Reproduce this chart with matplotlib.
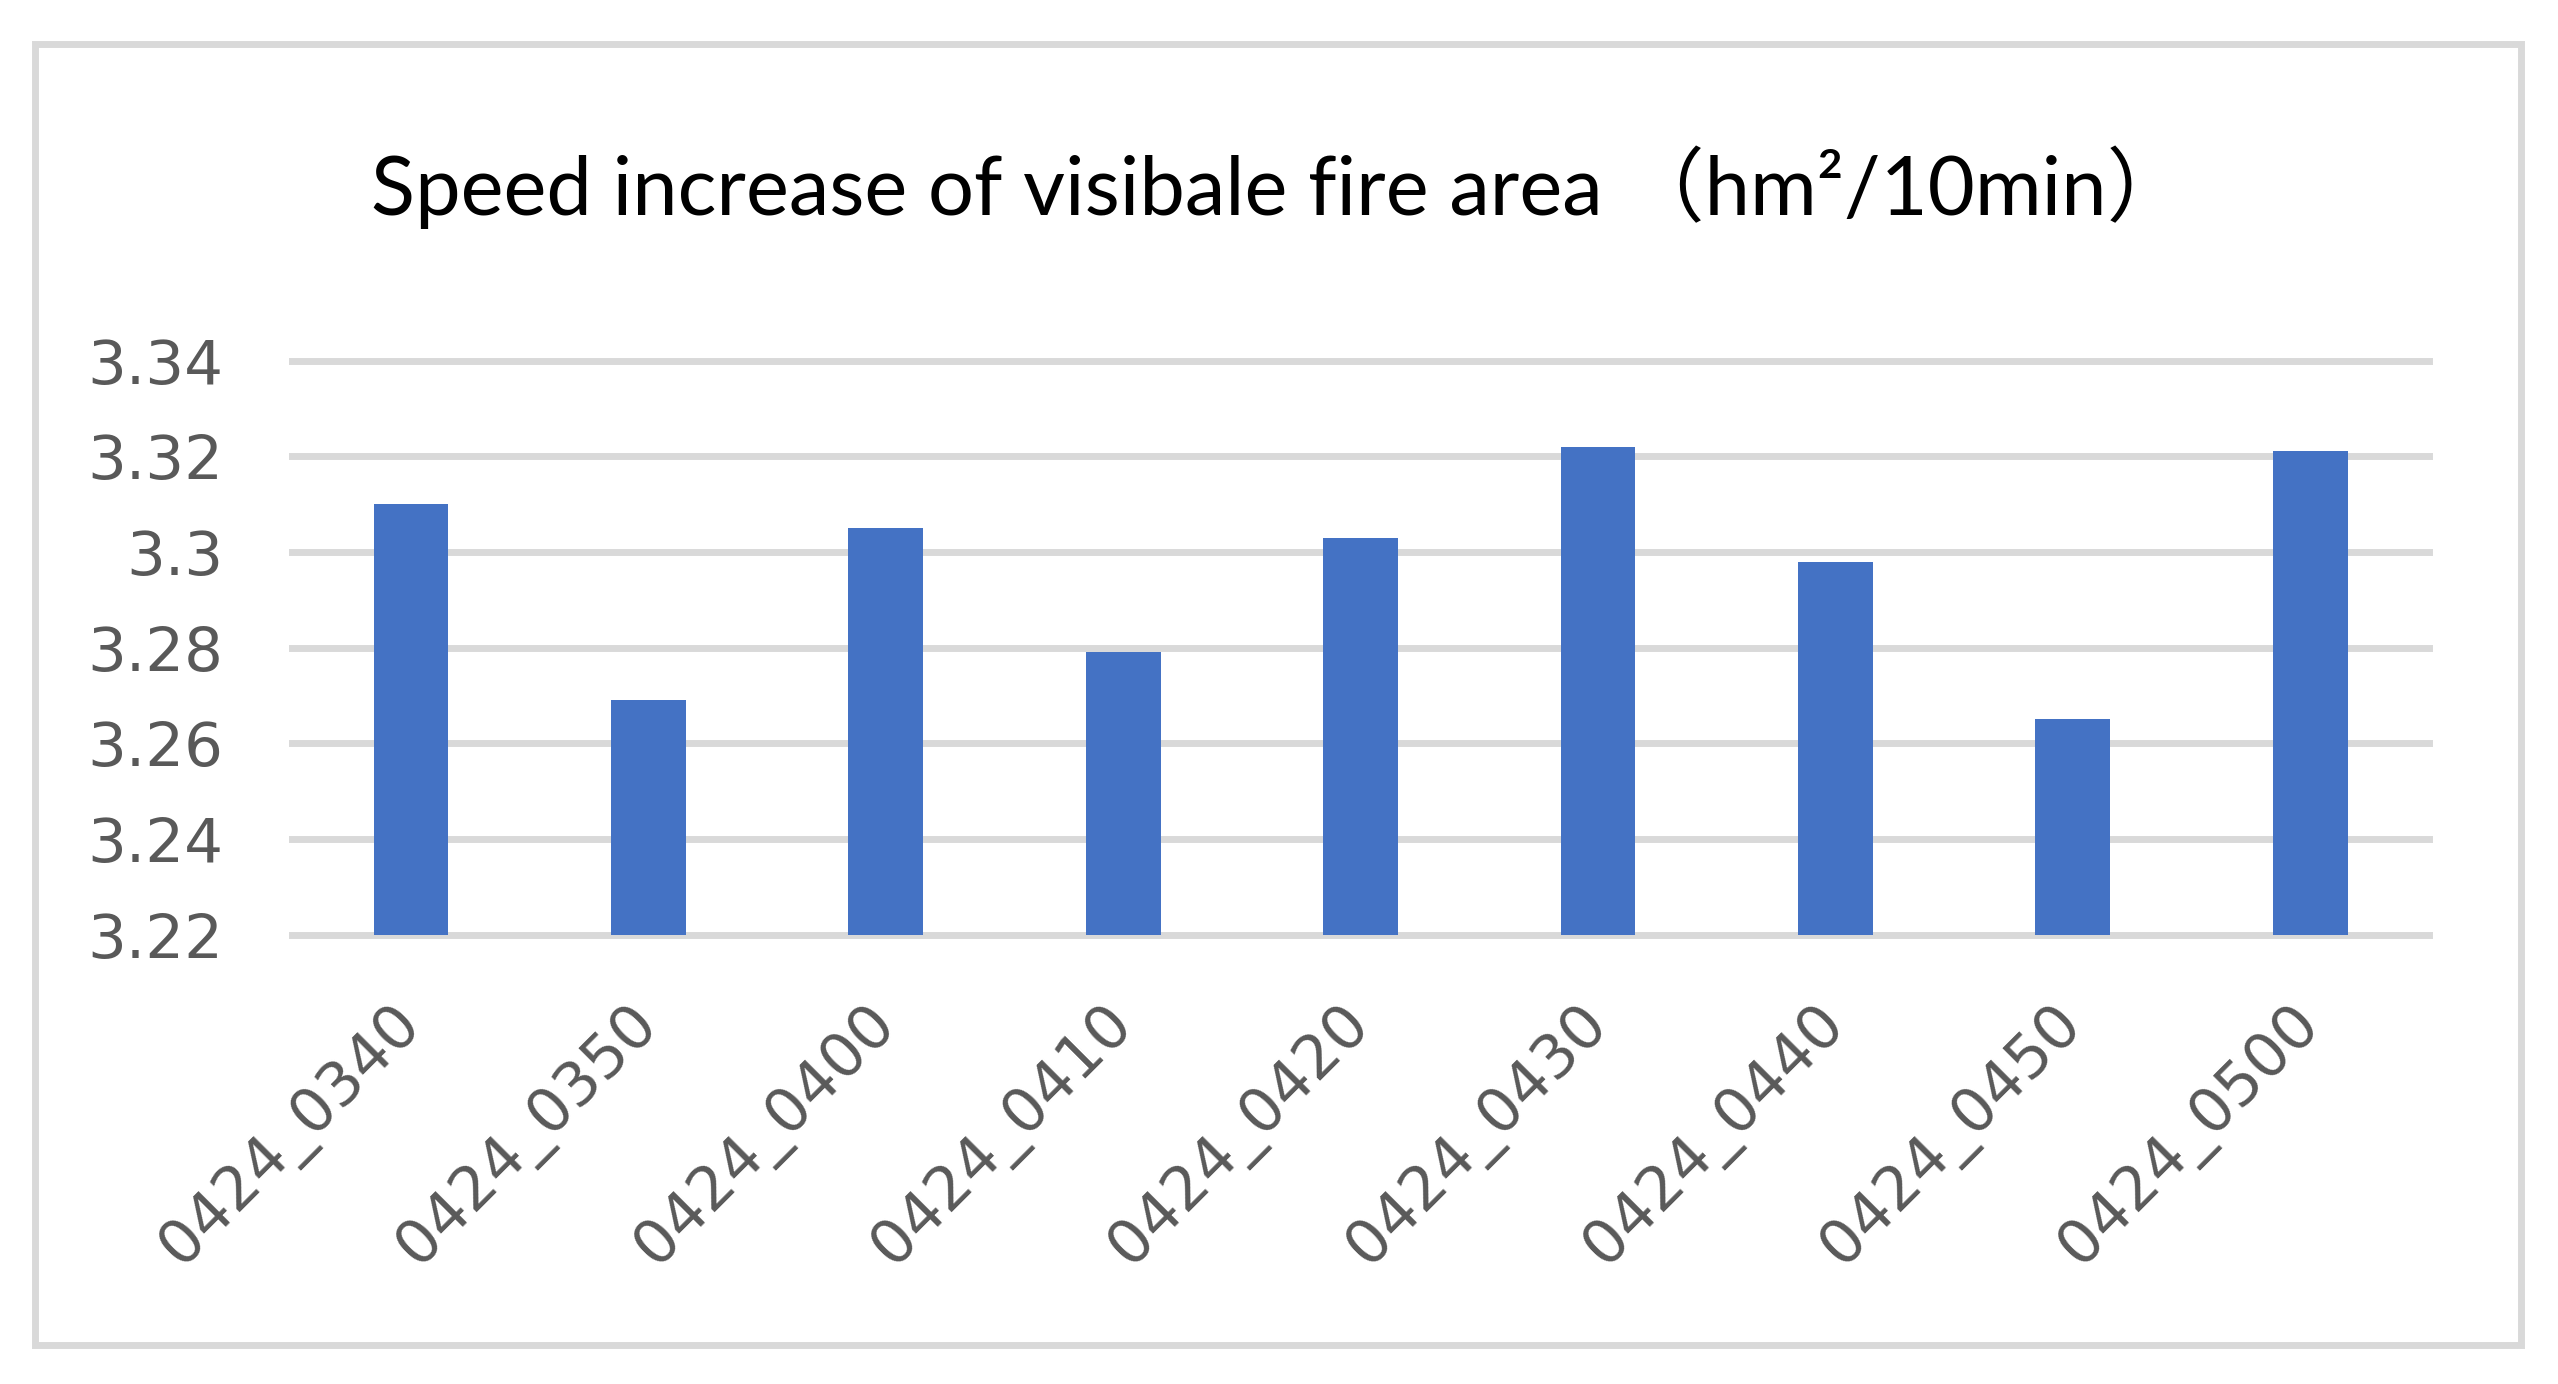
import matplotlib
matplotlib.use("Agg")
import matplotlib.pyplot as plt
from matplotlib.patches import Rectangle

categories = ["0424_0340", "0424_0350", "0424_0400", "0424_0410", "0424_0420",
              "0424_0430", "0424_0440", "0424_0450", "0424_0500"]
values = [3.310, 3.269, 3.305, 3.279, 3.303, 3.322, 3.298, 3.265, 3.321]
yticks = [3.22, 3.24, 3.26, 3.28, 3.30, 3.32, 3.34]
ytick_labels = ["3.22", "3.24", "3.26", "3.28", "3.3", "3.32", "3.34"]
title = "Speed increase of visibale fire area （hm²/10min）"

W, H = 2558, 1384
fig = plt.figure(figsize=(W / 100, H / 100), dpi=100)
fig.patch.set_facecolor("white")

# outer border
fig.patches.append(Rectangle((35 / W, 1 - 1344.5 / H), (2520.5 - 35) / W, (1344.5 - 44) / H,
                             transform=fig.transFigure, fill=False,
                             edgecolor="#D9D9D9", linewidth=5.0, zorder=0))

ax = fig.add_axes([0.1143, 0.3246, 0.9495 - 0.1143, 0.7395 - 0.3246])
x = list(range(len(categories)))
ax.bar(x, values, width=0.315, color="#4472C4", zorder=3)
ax.set_xlim(-0.5, len(categories) - 0.5)
ax.set_ylim(3.22, 3.34)
ax.set_yticks(yticks)
ax.set_yticklabels(ytick_labels)
for y in yticks:
    ax.axhline(y, color="#D9D9D9", linewidth=5.0, zorder=1, clip_on=False)
for s in ax.spines.values():
    s.set_visible(False)
ax.tick_params(axis="both", length=0, labelsize=44, labelcolor="#595959")
ax.tick_params(axis="y", pad=49.5)
ax.set_xticks(x)
ax.set_xticklabels(categories, rotation=45, ha="right", va="center",
                   rotation_mode="anchor")
ax.tick_params(axis="x", pad=58)
for lbl in ax.get_yticklabels() + ax.get_xticklabels():
    lbl.set_fontfamily("DejaVu Sans")

fig.text(0.5, 1 - 215 / H, title, ha="center", va="baseline", fontsize=58.5,
         color="black", family=["Lato", "Noto Sans CJK SC", "DejaVu Sans"])

fig.savefig("out.png", dpi=100)
